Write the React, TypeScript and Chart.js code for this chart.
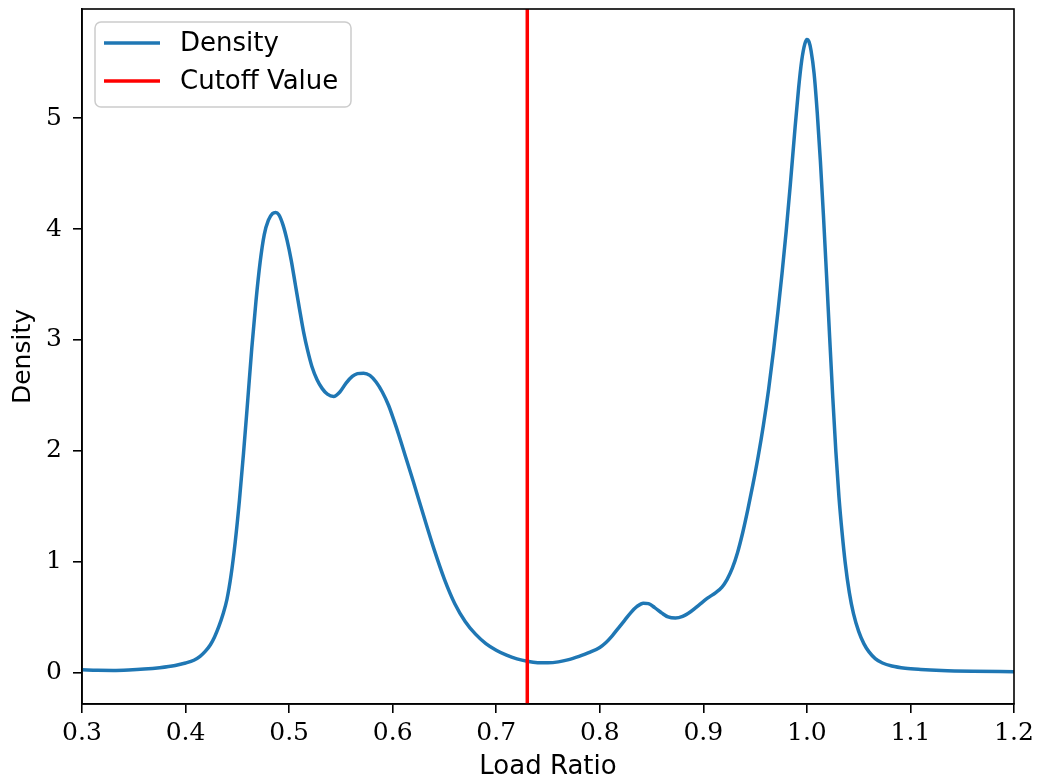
import React, { useEffect, useRef } from "react";
import { Chart, registerables } from "chart.js";

Chart.register(...registerables);

// ---- data ----
const LOAD_RATIO = [
  0.3, 0.315, 0.33, 0.345, 0.36, 0.375, 0.39, 0.4, 0.408, 0.414, 0.419, 0.424, 0.428, 0.432, 0.436,
  0.44, 0.444, 0.448, 0.452, 0.456, 0.46, 0.464, 0.468, 0.472, 0.476, 0.48, 0.484, 0.487, 0.49,
  0.494, 0.498, 0.502, 0.506, 0.51, 0.514, 0.518, 0.522, 0.527, 0.532, 0.537, 0.543, 0.549, 0.555,
  0.561, 0.566, 0.572, 0.578, 0.584, 0.59, 0.596, 0.601, 0.606, 0.612, 0.62, 0.63, 0.64, 0.65,
  0.66, 0.67, 0.68, 0.69, 0.7, 0.71, 0.72, 0.73, 0.74, 0.75, 0.76, 0.77, 0.78, 0.79, 0.8, 0.806,
  0.812, 0.818, 0.824, 0.83, 0.836, 0.842, 0.847, 0.853, 0.86, 0.866, 0.873, 0.88, 0.888, 0.896,
  0.904, 0.912, 0.918, 0.923, 0.928, 0.933, 0.938, 0.943, 0.948, 0.953, 0.958, 0.963, 0.968, 0.972,
  0.976, 0.98, 0.984, 0.988, 0.992, 0.995, 0.998, 1.0, 1.002, 1.004, 1.007, 1.01, 1.013, 1.016,
  1.019, 1.022, 1.025, 1.028, 1.031, 1.034, 1.037, 1.041, 1.045, 1.05, 1.055, 1.06, 1.066, 1.073,
  1.082, 1.095, 1.11, 1.13, 1.16, 1.2,
];
const DENSITY = [
  0.025, 0.019, 0.018, 0.022, 0.03, 0.043, 0.063, 0.085, 0.11, 0.145, 0.19, 0.25, 0.32, 0.41, 0.52,
  0.66, 0.88, 1.18, 1.55, 1.98, 2.45, 2.93, 3.35, 3.7, 3.95, 4.08, 4.14, 4.15, 4.13,
  4.04, 3.9, 3.72, 3.5, 3.28, 3.07, 2.9, 2.76, 2.64, 2.56, 2.51, 2.49, 2.53, 2.61,
  2.67, 2.695, 2.7, 2.68, 2.62, 2.53, 2.41, 2.28, 2.14, 1.96, 1.72, 1.41, 1.11, 0.84,
  0.62, 0.46, 0.345, 0.26, 0.2, 0.155, 0.122, 0.1, 0.088, 0.087, 0.095, 0.115, 0.145, 0.18, 0.225, 0.27,
  0.33, 0.4, 0.47, 0.54, 0.595, 0.625, 0.62, 0.585, 0.535, 0.5, 0.49, 0.505, 0.55, 0.61,
  0.67, 0.72, 0.77, 0.84, 0.94, 1.08, 1.26, 1.47, 1.7, 1.95, 2.23, 2.55, 2.92, 3.25,
  3.6, 3.98, 4.4, 4.85, 5.27, 5.52, 5.67, 5.71, 5.69, 5.61, 5.4, 5.05, 4.62, 4.12,
  3.58, 3.02, 2.48, 1.99, 1.58, 1.26, 0.99, 0.72, 0.53, 0.37, 0.26, 0.185, 0.125, 0.085,
  0.058, 0.038, 0.027, 0.018, 0.011, 0.006,
];
const CUTOFF = 0.73;
const X_MIN = 0.3;
const X_MAX = 1.2;
const Y_MIN = -0.285;
const Y_MAX = 5.985;
const X_TICKS = [0.3, 0.4, 0.5, 0.6, 0.7, 0.8, 0.9, 1.0, 1.1, 1.2];
const Y_TICKS = [0, 1, 2, 3, 4, 5];
const LEGEND_LABELS = ["Density", "Cutoff Value"];
const X_TITLE = "Load Ratio";
const Y_TITLE = "Density";

const BLUE = "#1f77b4";
const RED = "#ff0000";
const SERIF = "'DejaVu Serif', serif";
const SANS = "'DejaVu Sans', sans-serif";

const framePlugin = {
  id: "frame",
  afterDatasetsDraw(chart: any) {
    const { ctx, chartArea } = chart;
    ctx.save();
    ctx.strokeStyle = "#000";
    ctx.lineWidth = 1.6;
    ctx.strokeRect(chartArea.left, chartArea.top, chartArea.right - chartArea.left, chartArea.bottom - chartArea.top);
    ctx.restore();
  },
};

const legendPlugin = {
  id: "mplLegend",
  afterDraw(chart: any) {
    const { ctx } = chart;
    const x0 = 95, y0 = 22, w = 256, h = 85, r = 6;
    ctx.save();
    ctx.beginPath();
    ctx.moveTo(x0 + r, y0);
    ctx.arcTo(x0 + w, y0, x0 + w, y0 + h, r);
    ctx.arcTo(x0 + w, y0 + h, x0, y0 + h, r);
    ctx.arcTo(x0, y0 + h, x0, y0, r);
    ctx.arcTo(x0, y0, x0 + w, y0, r);
    ctx.closePath();
    ctx.fillStyle = "rgba(255,255,255,0.8)";
    ctx.fill();
    ctx.strokeStyle = "#cccccc";
    ctx.lineWidth = 1.5;
    ctx.stroke();
    const rows = [43, 81];
    LEGEND_LABELS.forEach((label, i) => {
      const ds = chart.data.datasets.find((d: any) => d.label === label);
      const y = rows[i];
      ctx.beginPath();
      ctx.strokeStyle = ds ? ds.borderColor : "#000";
      ctx.lineWidth = 3.5;
      ctx.moveTo(104, y);
      ctx.lineTo(160, y);
      ctx.stroke();
      ctx.fillStyle = "#000";
      ctx.font = `26px ${SANS}`;
      ctx.textBaseline = "middle";
      ctx.textAlign = "left";
      ctx.fillText(label, 180, y + 1);
    });
    ctx.restore();
  },
};

export default function App() {
  const ref = useRef<HTMLCanvasElement | null>(null);
  useEffect(() => {
    if (!ref.current) return;
    const densityPts = LOAD_RATIO.map((x, i) => ({ x, y: DENSITY[i] }));
    const cutoffPts = [
      { x: CUTOFF, y: Y_MIN },
      { x: CUTOFF, y: Y_MAX },
    ];
    const chart = new Chart(ref.current, {
      type: "line",
      data: {
        datasets: [
          {
            label: LEGEND_LABELS[0],
            data: densityPts,
            borderColor: BLUE,
            borderWidth: 3.5,
            pointRadius: 0,
            cubicInterpolationMode: "monotone",
            borderJoinStyle: "round",
            borderCapStyle: "round",
            fill: false,
            order: 2,
          },
          {
            label: LEGEND_LABELS[1],
            data: cutoffPts,
            borderColor: RED,
            borderWidth: 3.5,
            pointRadius: 0,
            fill: false,
            order: 1,
          },
        ],
      },
      options: {
        responsive: false,
        animation: false,
        events: [],
        layout: { padding: { top: 9, right: 23, left: 0, bottom: 0 } },
        plugins: { legend: { display: false }, tooltip: { enabled: false } },
        scales: {
          x: {
            type: "linear",
            min: X_MIN,
            max: X_MAX,
            afterBuildTicks: (s: any) => {
              s.ticks = X_TICKS.map((v) => ({ value: v }));
            },
            afterFit: (s: any) => {
              s.height = 77;
              s.paddingLeft = 0;
              s.paddingRight = 0;
            },
            ticks: {
              autoSkip: false,
              maxRotation: 0,
              minRotation: 0,
              padding: 5,
              color: "#000",
              font: { family: SERIF, size: 25 },
              callback: (v: any) => Number(v).toFixed(1),
            },
            grid: { drawOnChartArea: false, drawTicks: true, tickLength: 9, color: "#000", lineWidth: 1.6 },
            border: { display: true, color: "#000", width: 1.6 },
            title: { display: true, text: X_TITLE, color: "#000", font: { family: SANS, size: 26 }, padding: { top: 0, bottom: -2 } },
          },
          y: {
            type: "linear",
            min: Y_MIN,
            max: Y_MAX,
            afterBuildTicks: (s: any) => {
              s.ticks = Y_TICKS.map((v) => ({ value: v }));
            },
            afterFit: (s: any) => {
              s.width = 82;
              s.paddingTop = 0;
              s.paddingBottom = 0;
            },
            ticks: {
              padding: 11,
              color: "#000",
              font: { family: SERIF, size: 25 },
              callback: (v: any) => String(Math.round(Number(v))),
            },
            grid: { drawOnChartArea: false, drawTicks: true, tickLength: 9, color: "#000", lineWidth: 1.6 },
            border: { display: true, color: "#000", width: 1.6 },
            title: { display: true, text: Y_TITLE, color: "#000", font: { family: SANS, size: 25 }, padding: { top: 8, bottom: 0 } },
          },
        },
      } as any,
      plugins: [framePlugin, legendPlugin],
    });
    return () => chart.destroy();
  }, []);
  return (
    <div style={{ position: "absolute", left: 0, top: 0, width: 1037, height: 781, background: "#fff" }}>
      <canvas ref={ref} width={1037} height={781} />
    </div>
  );
}
